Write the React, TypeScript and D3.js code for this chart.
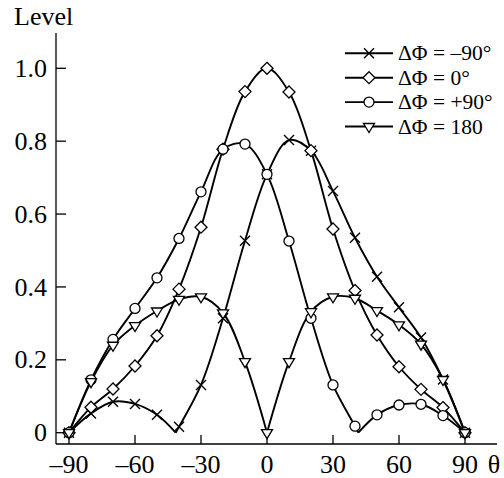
import React, { useRef, useEffect } from 'react';
import * as d3 from 'd3';

// angle of each marker, degrees
const thetas = [-90, -80, -70, -60, -50, -40, -30, -20, -10, 0, 10, 20, 30, 40, 50, 60, 70, 80, 90];

// levels, one per angle
const crossLevels = [0, 0.053, 0.085, 0.079, 0.049, 0.016, 0.131, 0.314, 0.527, 0.709, 0.803, 0.774, 0.663, 0.535, 0.428, 0.344, 0.261, 0.146, 0];
const diamondLevels = [0, 0.07, 0.12, 0.183, 0.266, 0.394, 0.564, 0.778, 0.936, 1.0, 0.935, 0.774, 0.559, 0.39, 0.268, 0.181, 0.119, 0.069, 0];
const circleLevels = [0, 0.145, 0.256, 0.341, 0.425, 0.533, 0.661, 0.778, 0.792, 0.709, 0.526, 0.314, 0.131, 0.018, 0.049, 0.076, 0.078, 0.047, 0];
const triangleLevels = [0, 0.14, 0.24, 0.294, 0.334, 0.366, 0.373, 0.329, 0.195, 0, 0.195, 0.332, 0.373, 0.369, 0.335, 0.296, 0.243, 0.146, 0];

// where the curves touch zero between two markers (cusps)
const crossZeros = [-41.5];
const circleZeros = [41.5];

const yTicks = [0, 0.2, 0.4, 0.6, 0.8, 1.0];
const yTickLabels = ['0', '0.2', '0.4', '0.6', '0.8', '1.0'];
const xTicks = [-90, -60, -30, 0, 30, 60, 90];
const xTickLabels = ['–90', '–60', '–30', '0', '30', '60', '90'];
const legendLabels = ['ΔΦ = –90°', 'ΔΦ = 0°', 'ΔΦ = +90°', 'ΔΦ = 180'];

const FONT = '"Liberation Serif", "Times New Roman", serif';

type Kind = 'cross' | 'diamond' | 'circle' | 'triangle';

function drawMarker(g: any, kind: Kind, cx: number, cy: number) {
    if (kind === 'cross') {
        const s = 5;
        g.append('path')
            .attr('d', `M${cx - s},${cy - s}L${cx + s},${cy + s}M${cx - s},${cy + s}L${cx + s},${cy - s}`)
            .attr('stroke', '#000').attr('stroke-width', 1.4).attr('fill', 'none');
    } else if (kind === 'diamond') {
        const s = 6;
        g.append('path')
            .attr('d', `M${cx},${cy - s}L${cx + s},${cy}L${cx},${cy + s}L${cx - s},${cy}Z`)
            .attr('stroke', '#000').attr('stroke-width', 1.3).attr('fill', '#fff');
    } else if (kind === 'circle') {
        g.append('circle')
            .attr('cx', cx).attr('cy', cy).attr('r', 5)
            .attr('stroke', '#000').attr('stroke-width', 1.3).attr('fill', '#fff');
    } else {
        const w = 5.5, h = 9;
        g.append('path')
            .attr('d', `M${cx - w},${cy - h / 3}L${cx + w},${cy - h / 3}L${cx},${cy + (2 * h) / 3}Z`)
            .attr('stroke', '#000').attr('stroke-width', 1.3).attr('fill', '#fff');
    }
}

export default function App() {
    const svgRef = useRef<SVGSVGElement | null>(null);

    useEffect(() => {
        if (!svgRef.current) return;
        const svg = d3.select(svgRef.current);
        svg.selectAll('*').remove();

        const x = d3.scaleLinear().domain([-90, 90]).range([69, 465]);
        const y = d3.scaleLinear().domain([0, 1]).range([432.7, 68.3]);

        const axisX = 56;
        const axisY = 444;

        const series: { kind: Kind; levels: number[]; zeros: number[] }[] = [
            { kind: 'cross', levels: crossLevels, zeros: crossZeros },
            { kind: 'diamond', levels: diamondLevels, zeros: [] },
            { kind: 'circle', levels: circleLevels, zeros: circleZeros },
            { kind: 'triangle', levels: triangleLevels, zeros: [] },
        ];

        // axes
        const axes = svg.append('g').attr('stroke', '#000').attr('stroke-width', 1.3);
        axes.append('line').attr('x1', axisX).attr('x2', axisX).attr('y1', 33).attr('y2', axisY);
        axes.append('line').attr('x1', axisX).attr('x2', 497).attr('y1', axisY).attr('y2', axisY);
        yTicks.forEach(t => {
            axes.append('line').attr('x1', axisX).attr('x2', axisX + 10).attr('y1', y(t)).attr('y2', y(t));
        });
        xTicks.forEach(t => {
            axes.append('line').attr('x1', x(t)).attr('x2', x(t)).attr('y1', axisY).attr('y2', axisY - 9);
        });

        const text = svg.append('g').attr('font-family', FONT).attr('font-size', 26).attr('fill', '#000');
        yTicks.forEach((t, i) => {
            text.append('text').attr('x', 47).attr('y', y(t)).attr('dy', '0.33em')
                .attr('text-anchor', 'end').text(yTickLabels[i]);
        });
        xTicks.forEach((t, i) => {
            text.append('text').attr('x', x(t)).attr('y', 473)
                .attr('text-anchor', 'middle').text(xTickLabels[i]);
        });
        text.append('text').attr('x', 14).attr('y', 25).text('Level');
        text.append('text').attr('x', 494).attr('y', 473).attr('text-anchor', 'middle').text('θ');

        // curves, split at the points where they touch zero so the cusps stay sharp
        const line = d3.line<[number, number]>()
            .x(d => x(d[0]))
            .y(d => y(d[1]))
            .curve(d3.curveCatmullRom.alpha(0.5));

        const curves = svg.append('g').attr('fill', 'none').attr('stroke', '#000').attr('stroke-width', 1.9);
        series.forEach(s => {
            const pts: [number, number][] = thetas.map((t, i) => [t, s.levels[i]] as [number, number]);
            s.zeros.forEach(z => pts.push([z, 0]));
            pts.sort((a, b) => a[0] - b[0]);
            const segments: [number, number][][] = [];
            let cur: [number, number][] = [];
            pts.forEach((p, i) => {
                cur.push(p);
                if (p[1] === 0 && i > 0 && i < pts.length - 1) {
                    segments.push(cur);
                    cur = [p];
                }
            });
            segments.push(cur);
            segments.forEach(seg => {
                curves.append('path').attr('d', line(seg));
            });
        });

        const markers = svg.append('g');
        series.forEach(s => {
            thetas.forEach((t, i) => drawMarker(markers, s.kind, x(t), y(s.levels[i])));
        });

        // legend
        const legend = svg.append('g');
        series.forEach((s, i) => {
            const ly = 53.3 + i * 24.4;
            legend.append('line').attr('x1', 345).attr('x2', 393).attr('y1', ly).attr('y2', ly)
                .attr('stroke', '#000').attr('stroke-width', 1.9);
            drawMarker(legend, s.kind, 369, ly);
            legend.append('text').attr('x', 398).attr('y', ly).attr('dy', '0.33em')
                .attr('font-family', FONT).attr('font-size', 21.5).text(legendLabels[i]);
        });
    }, []);

    return (
        <svg
            ref={svgRef}
            width={504}
            height={478}
            style={{ position: 'absolute', left: 0, top: 0, background: '#fff' }}
        />
    );
}
